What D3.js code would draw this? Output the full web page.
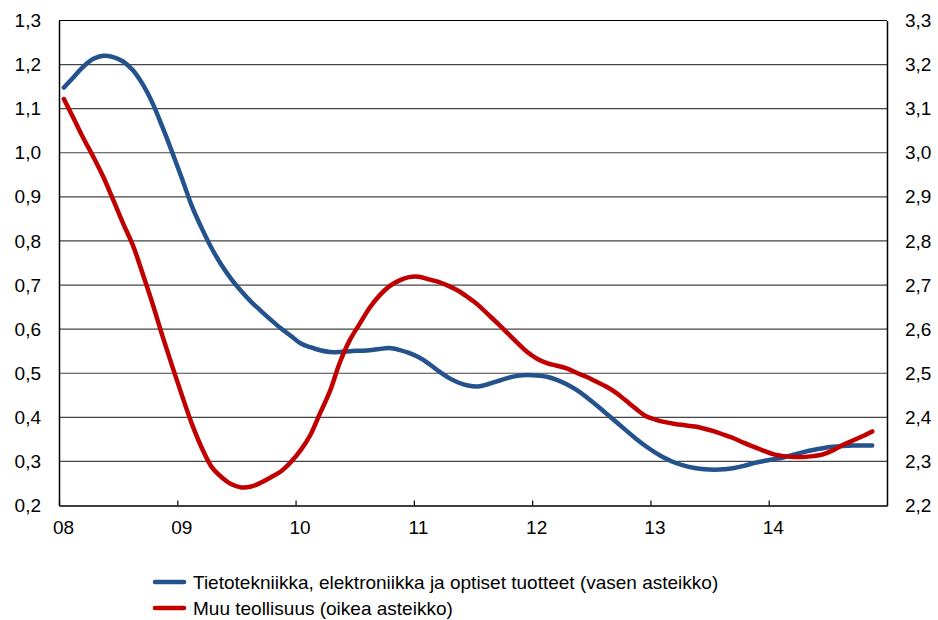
<!doctype html>
<html lang="fi">
<head>
<meta charset="UTF-8">
<title>Teollisuus</title>
<style>
  body { margin: 0; background: #fff; }
  text { font-family: "Liberation Sans", Arial, sans-serif; fill: #000; }
</style>
</head>
<body>
<div class="container"></div>

<script src="https://cdn.jsdelivr.net/npm/d3@7"></script>
<script>
  // monthly data, Jan 2008 .. Nov 2014
  const startYear = 2008;
  const yearTicks = [2008, 2009, 2010, 2011, 2012, 2013, 2014];
  const leftTicks = [0.2, 0.3, 0.4, 0.5, 0.6, 0.7, 0.8, 0.9, 1.0, 1.1, 1.2, 1.3];
  const rightTicks = [2.2, 2.3, 2.4, 2.5, 2.6, 2.7, 2.8, 2.9, 3.0, 3.1, 3.2, 3.3];

  const ictValues = [
    1.148, 1.172, 1.196, 1.213, 1.220, 1.217, 1.207, 1.187, 1.155, 1.112, 1.058, 1.000,
    0.940, 0.878, 0.828, 0.783, 0.745, 0.713, 0.686, 0.662, 0.641, 0.621, 0.602, 0.585,
    0.568, 0.559, 0.552, 0.548, 0.548, 0.550, 0.551, 0.552, 0.555, 0.557, 0.553, 0.546,
    0.536, 0.522, 0.505, 0.490, 0.479, 0.472, 0.470, 0.475, 0.482, 0.489, 0.494, 0.496,
    0.495, 0.492, 0.485, 0.475, 0.462, 0.446, 0.428, 0.409, 0.390, 0.371, 0.352, 0.335,
    0.320, 0.307, 0.297, 0.290, 0.285, 0.282, 0.281, 0.282, 0.285, 0.290, 0.296, 0.301,
    0.305, 0.309, 0.315, 0.321, 0.326, 0.330, 0.333, 0.335, 0.336, 0.336, 0.336
  ];

  const otherValues = [
    3.122, 3.077, 3.032, 2.990, 2.945, 2.893, 2.840, 2.790, 2.725, 2.657, 2.584, 2.515,
    2.448, 2.384, 2.330, 2.287, 2.264, 2.248, 2.241, 2.243, 2.252, 2.264, 2.277, 2.298,
    2.325, 2.360, 2.410, 2.460, 2.525, 2.575, 2.612, 2.648, 2.676, 2.697, 2.710, 2.718,
    2.719, 2.713, 2.707, 2.698, 2.687, 2.672, 2.655, 2.634, 2.613, 2.591, 2.569, 2.548,
    2.533, 2.523, 2.517, 2.511, 2.501, 2.492, 2.481, 2.470, 2.456, 2.438, 2.420, 2.403,
    2.395, 2.389, 2.385, 2.382, 2.379, 2.374, 2.368, 2.360, 2.352, 2.342, 2.333, 2.324,
    2.316, 2.312, 2.310, 2.310, 2.312, 2.316, 2.325, 2.337, 2.347, 2.357, 2.368
  ];

  const seriesNames = [
    'Tietotekniikka, elektroniikka ja optiset tuotteet (vasen asteikko)',
    'Muu teollisuus (oikea asteikko)'
  ];
  const seriesColors = ['#24528c', '#c00000'];

  const SVG_WIDTH = 938;
  const SVG_HEIGHT = 620;
  const LEFT = 59, RIGHT = 887, TOP = 20.5, BOTTOM = 505.5;

  const fmt = d => d.toFixed(1).replace('.', ',');

  const svg = d3.select('.container')
    .append('svg')
    .attr('width', SVG_WIDTH)
    .attr('height', SVG_HEIGHT);

  const x = d3.scaleLinear().domain([startYear, 2015]).range([LEFT, RIGHT]);
  const yLeft = d3.scaleLinear().domain([0.2, 1.3]).range([BOTTOM, TOP]);
  const yRight = d3.scaleLinear().domain([2.2, 3.3]).range([BOTTOM, TOP]);

  const monthX = i => x(startYear + (i + 0.5) / 12);

  // horizontal gridlines
  svg.append('g')
    .selectAll('line')
    .data(leftTicks.slice(1))
    .enter().append('line')
    .attr('x1', LEFT).attr('x2', RIGHT)
    .attr('y1', d => yLeft(d)).attr('y2', d => yLeft(d))
    .attr('stroke', d => d === 1.3 ? '#000' : '#444')
    .attr('stroke-width', 1.2);

  // left axis
  const leftAxis = svg.append('g')
    .attr('transform', `translate(${LEFT},0)`)
    .call(d3.axisLeft(yLeft).tickValues(leftTicks).tickFormat(fmt).tickSize(0).tickPadding(18));
  leftAxis.select('.domain').attr('stroke', '#000').attr('stroke-width', 1.5);

  // right axis
  const rightAxis = svg.append('g')
    .attr('transform', `translate(${RIGHT},0)`)
    .call(d3.axisRight(yRight).tickValues(rightTicks).tickFormat(fmt).tickSize(0).tickPadding(18));
  rightAxis.select('.domain').attr('stroke', '#000').attr('stroke-width', 1.5);

  // bottom axis, ticks pointing up into the plot
  const bottomAxis = svg.append('g')
    .attr('transform', `translate(0,${BOTTOM})`)
    .call(d3.axisBottom(x).tickValues(yearTicks).tickFormat(d => String(d).slice(2))
      .tickSizeInner(-5).tickSizeOuter(0).tickPadding(15));
  bottomAxis.select('.domain').attr('stroke', '#000').attr('stroke-width', 1.5);
  bottomAxis.selectAll('.tick line').attr('stroke', '#000').attr('stroke-width', 1.2);
  bottomAxis.selectAll('text').attr('dx', 4);

  svg.selectAll('.tick text')
    .style('font-family', '"Liberation Sans", Arial, sans-serif')
    .style('font-size', '19px')
    .attr('fill', '#000');

  // lines
  const lineLeft = d3.line()
    .x((d, i) => monthX(i))
    .y(d => yLeft(d))
    .curve(d3.curveCatmullRom);

  const lineRight = d3.line()
    .x((d, i) => monthX(i))
    .y(d => yRight(d))
    .curve(d3.curveCatmullRom);

  svg.append('path')
    .datum(ictValues)
    .attr('d', lineLeft)
    .attr('fill', 'none')
    .attr('stroke', seriesColors[0])
    .attr('stroke-width', 4.5)
    .attr('stroke-linecap', 'round')
    .attr('stroke-linejoin', 'round');

  svg.append('path')
    .datum(otherValues)
    .attr('d', lineRight)
    .attr('fill', 'none')
    .attr('stroke', seriesColors[1])
    .attr('stroke-width', 4.5)
    .attr('stroke-linecap', 'round')
    .attr('stroke-linejoin', 'round');

  // legend
  const legend = svg.append('g').attr('transform', 'translate(153,582)');
  const item = legend.selectAll('g')
    .data(seriesNames)
    .enter().append('g')
    .attr('transform', (d, i) => `translate(0,${i * 26})`);

  item.append('line')
    .attr('x1', 2).attr('x2', 31)
    .attr('y1', 0).attr('y2', 0)
    .attr('stroke', (d, i) => seriesColors[i])
    .attr('stroke-width', 4.5)
    .attr('stroke-linecap', 'round');

  item.append('text')
    .attr('x', 40)
    .attr('y', 0)
    .attr('dy', '0.35em')
    .style('font-size', '19px')
    .text(d => d);
</script>
</body>
</html>
